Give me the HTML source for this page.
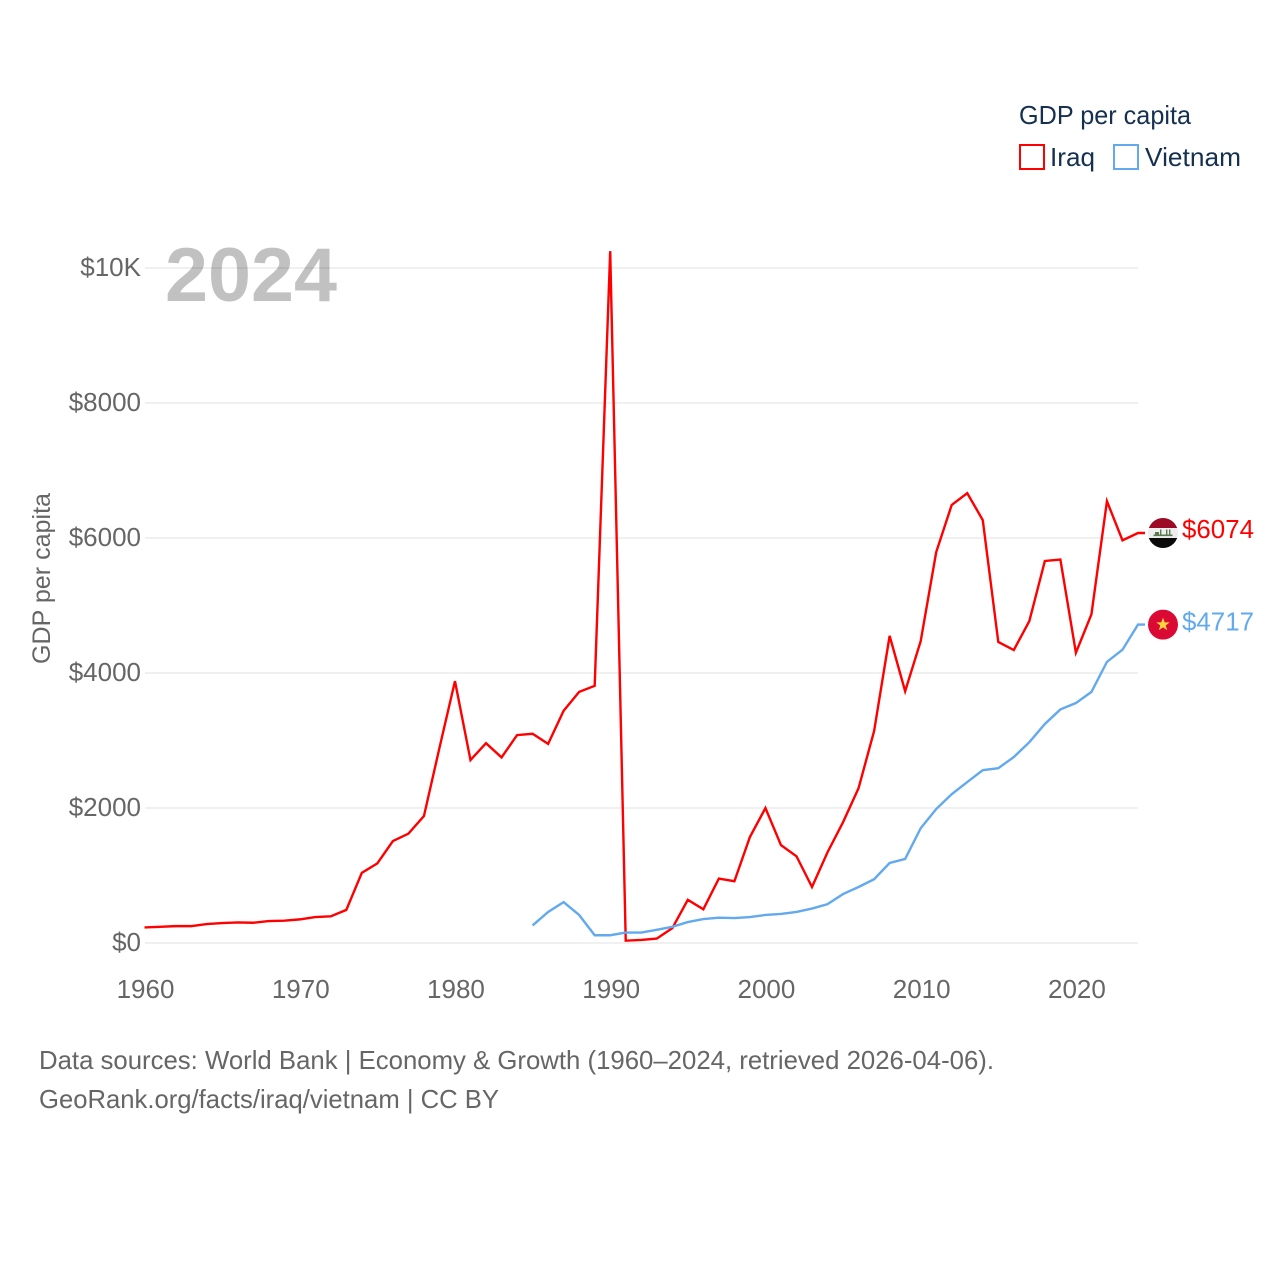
<!DOCTYPE html>
<html lang="en">
<head>
<meta charset="utf-8">
<title>GDP per capita: Iraq and Vietnam</title>
<style>
html,body{margin:0;padding:0;background:#fff;width:1280px;height:1280px;overflow:hidden}
svg{display:block}
text{font-family:"Liberation Sans",sans-serif}
</style>
</head>
<body>
<svg id="chart" xmlns="http://www.w3.org/2000/svg" width="1280" height="1280" viewBox="0 0 1280 1280">
  <defs>
    <clipPath id="flag-clip-a"><circle cx="0" cy="0" r="15"/></clipPath>
    <clipPath id="flag-clip-b"><circle cx="0" cy="0" r="15"/></clipPath>
  </defs>
  <rect width="1280" height="1280" fill="#fff"/>
  <text x="165" y="301" font-size="76" font-weight="700" fill="#c1c1c1" textLength="172" lengthAdjust="spacingAndGlyphs">2024</text>
  <g id="grid"></g>
  <g id="yticks"></g>
  <g id="xticks"></g>
  <text transform="translate(50,664) rotate(-90)" font-size="25" fill="#666" textLength="171" lengthAdjust="spacingAndGlyphs">GDP per capita</text>
  <g id="series"></g>
  <g id="ends"></g>
  <g>
    <text x="1019" y="124" font-size="26" fill="#16304f" textLength="172" lengthAdjust="spacingAndGlyphs">GDP per capita</text>
    <g>
      <rect x="1020" y="145" width="24" height="24" fill="none" stroke="#ff0000" stroke-width="2"/>
      <text x="1050" y="166" font-size="26" fill="#16304f" textLength="45" lengthAdjust="spacingAndGlyphs">Iraq</text>
    </g>
    <g>
      <rect x="1114" y="145" width="24" height="24" fill="none" stroke="#62a9ee" stroke-width="2"/>
      <text x="1145" y="166" font-size="26" fill="#16304f" textLength="96" lengthAdjust="spacingAndGlyphs">Vietnam</text>
    </g>
  </g>
  <text x="39" y="1069" font-size="26" fill="#666" textLength="955" lengthAdjust="spacingAndGlyphs">Data sources: World Bank | Economy &amp; Growth (1960–2024, retrieved 2026-04-06).</text>
  <text x="39" y="1108" font-size="26" fill="#666" textLength="460" lengthAdjust="spacingAndGlyphs">GeoRank.org/facts/iraq/vietnam | CC BY</text>
</svg>
<script>
const iraqStartYear = 1960;
const iraqValues = [230,240,250,250,280,295,305,300,325,330,350,385,395,490,1040,1180,1510,1620,1880,2890,3880,2710,2960,2750,3080,3100,2950,3440,3720,3810,10250,35,45,65,220,640,500,955,915,1570,2000,1450,1285,830,1345,1790,2295,3140,4550,3730,4470,5790,6490,6665,6265,4460,4340,4770,5660,5680,4300,4870,6545,5965,6074];
const vietnamStartYear = 1985;
const vietnamValues = [260,460,605,415,115,115,155,155,195,240,310,355,375,370,385,415,430,460,510,575,725,830,945,1185,1245,1700,1985,2205,2385,2560,2590,2755,2975,3245,3460,3555,3720,4165,4345,4717];
const xTickYears = [1960,1970,1980,1990,2000,2010,2020];
const yTickValues = [0,2000,4000,6000,8000,10000];
const yTickLabels = ["$0","$2000","$4000","$6000","$8000","$10K"];
const iraqEndLabel = "$6074";
const vietnamEndLabel = "$4717";

const NS = "http://www.w3.org/2000/svg";
function x(year){ return 144.5 + (year - 1960) * (1138 - 144.5) / 64; }
function y(value){ return 943 - value * 0.0675; }
function make(tag, attrs, parent){
  const el = document.createElementNS(NS, tag);
  for (const k in attrs) el.setAttribute(k, attrs[k]);
  parent.appendChild(el);
  return el;
}
const grid = document.getElementById("grid");
const yticks = document.getElementById("yticks");
const xticks = document.getElementById("xticks");
const series = document.getElementById("series");
const ends = document.getElementById("ends");

yTickValues.forEach(function(v, i){
  const line = make("line", {x1:145, x2:1138, y1:y(v), y2:y(v), stroke:"#000", "stroke-opacity":0.08, "stroke-width":1.5}, grid);
  
  
  const t = make("text", {x:141, y:y(v)+8, "text-anchor":"end", "font-size":26, fill:"#666"}, yticks);
  
  
  t.textContent = yTickLabels[i];
});
xTickYears.forEach(function(yr){
  const t = make("text", {x:x(yr)+1, y:998, "text-anchor":"middle", "font-size":26, fill:"#666"}, xticks);
  
  
  t.textContent = String(yr);
});
function pathFor(values, start){
  const pts = values.map(function(v, i){ return x(start + i).toFixed(2) + "," + y(v).toFixed(2); });
  const last = values[values.length - 1];
  pts.push((x(start + values.length - 1) + 7).toFixed(2) + "," + y(last).toFixed(2));
  return pts.join(" ");
}
const iraqLine = make("polyline", {points:pathFor(iraqValues, iraqStartYear), fill:"none", stroke:"#ff0000", "stroke-width":2.4, "stroke-linejoin":"miter"}, series);


const vietnamLine = make("polyline", {points:pathFor(vietnamValues, vietnamStartYear), fill:"none", stroke:"#62a9ee", "stroke-width":2.4, "stroke-linejoin":"miter"}, series);



/* Iraq end marker */
const iy = y(iraqValues[iraqValues.length - 1]);
const iraqFlag = make("g", {transform:"translate(1163," + iy + ")"}, ends);


const iraqClip = make("g", {"clip-path":"url(#flag-clip-a)"}, iraqFlag);
make("rect", {x:-15, y:-15, width:30, height:10, fill:"#9c0a26"}, iraqClip);
make("rect", {x:-15, y:-5, width:30, height:10, fill:"#eeeeee"}, iraqClip);
make("rect", {x:-15, y:5, width:30, height:10, fill:"#0a0a0a"}, iraqClip);
make("rect", {x:-9.5, y:1.5, width:19, height:1.6, fill:"#5c7a50"}, iraqClip);
make("rect", {x:-3, y:-3.5, width:1.4, height:5, fill:"#5c7a50"}, iraqClip);
make("rect", {x:3, y:-3.5, width:1.4, height:5, fill:"#5c7a50"}, iraqClip);
make("rect", {x:6, y:-3.5, width:1.4, height:5, fill:"#5c7a50"}, iraqClip);
make("rect", {x:-8, y:-1, width:4, height:2.5, fill:"#5c7a50"}, iraqClip);
const iraqEnd = make("text", {x:1182, y:iy+5, "font-size":26, fill:"#ff0000", textLength:72, lengthAdjust:"spacingAndGlyphs"}, ends);


iraqEnd.textContent = iraqEndLabel;

/* Vietnam end marker */
const vy = y(vietnamValues[vietnamValues.length - 1]);
const vnFlag = make("g", {transform:"translate(1163," + vy + ")"}, ends);


const vnClip = make("g", {"clip-path":"url(#flag-clip-b)"}, vnFlag);
make("rect", {x:-15, y:-15, width:30, height:30, fill:"#da0a34"}, vnClip);
make("polygon", {points:"0,-7 1.7,-2.2 6.7,-2.2 2.7,0.9 4.2,5.7 0,2.8 -4.2,5.7 -2.7,0.9 -6.7,-2.2 -1.7,-2.2", fill:"#fcd53f"}, vnClip);
const vnEnd = make("text", {x:1182, y:vy+6, "font-size":26, fill:"#62a9ee", textLength:72, lengthAdjust:"spacingAndGlyphs"}, ends);


vnEnd.textContent = vietnamEndLabel;
</script>
</body>
</html>
